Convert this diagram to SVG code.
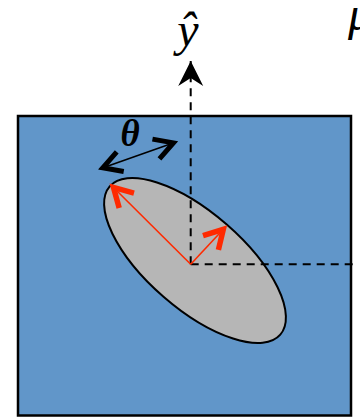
<svg xmlns="http://www.w3.org/2000/svg" width="360" height="417" viewBox="0 0 360 417">
  <style>
    .math { font-family: "Liberation Serif", "Times New Roman", serif; font-style: italic; fill: #000; }
    .dash { fill: none; stroke: #000; stroke-width: 2; stroke-dasharray: 8 6; }
    .thin-k { fill: none; stroke: #000; stroke-width: 1.6; }
    .thin-r { fill: none; stroke: #ff2a00; stroke-width: 1.6; }
  </style>
  <defs>
    <marker id="axis-head" markerUnits="userSpaceOnUse" orient="auto" overflow="visible" refX="0" refY="0" markerWidth="1" markerHeight="1">
      <path d="M0,0 L-25,-12.5 L-17,0 L-25,12.5 Z" fill="#000" stroke="none"/>
    </marker>
    <marker id="chev-k" markerUnits="userSpaceOnUse" orient="auto-start-reverse" overflow="visible" refX="0" refY="0" markerWidth="1" markerHeight="1">
      <path d="M-22,-10.5 L-3.5,0 L-22,10.5" fill="none" stroke="#000" stroke-width="5" stroke-dasharray="none"/>
    </marker>
    <marker id="chev-r" markerUnits="userSpaceOnUse" orient="auto" overflow="visible" refX="0" refY="0" markerWidth="1" markerHeight="1">
      <path d="M-22,-10.5 L-3.5,0 L-22,10.5" fill="none" stroke="#ff2a00" stroke-width="5.5" stroke-dasharray="none"/>
    </marker>
  </defs>

  <g id="frame">
    <rect x="18" y="116" width="333" height="299.5" fill="#6196c9" stroke="#000" stroke-width="2.5"/>
  </g>

  <g id="ellipse">
    <ellipse cx="0" cy="0" rx="113" ry="48" transform="translate(195 260.5) rotate(41)" fill="#b6b6b6" stroke="#000" stroke-width="2"/>
  </g>

  <g id="connectors">
    <path class="dash" d="M190.7,264.3 L190.7,61" marker-end="url(#axis-head)"/>
    <path class="dash" d="M190.7,264.3 L357,264.3"/>
    <path class="thin-r" d="M190.7,264.3 L111,185" marker-end="url(#chev-r)"/>
    <path class="thin-r" d="M190.7,264.3 L225.7,226.7" marker-end="url(#chev-r)"/>
    <path class="thin-k" d="M99.5,169 L176.7,141.7" marker-start="url(#chev-k)" marker-end="url(#chev-k)"/>
  </g>

  <g id="label-yhat">
    <text class="math" x="188" y="46" font-size="48" text-anchor="middle">ŷ</text>
  </g>
  <g id="label-theta">
    <text class="math" x="130" y="146" font-size="37" font-weight="bold" text-anchor="middle">θ</text>
  </g>
  <g id="label-mu">
    <text class="math" x="348" y="30" font-size="48">μ</text>
  </g>
</svg>
